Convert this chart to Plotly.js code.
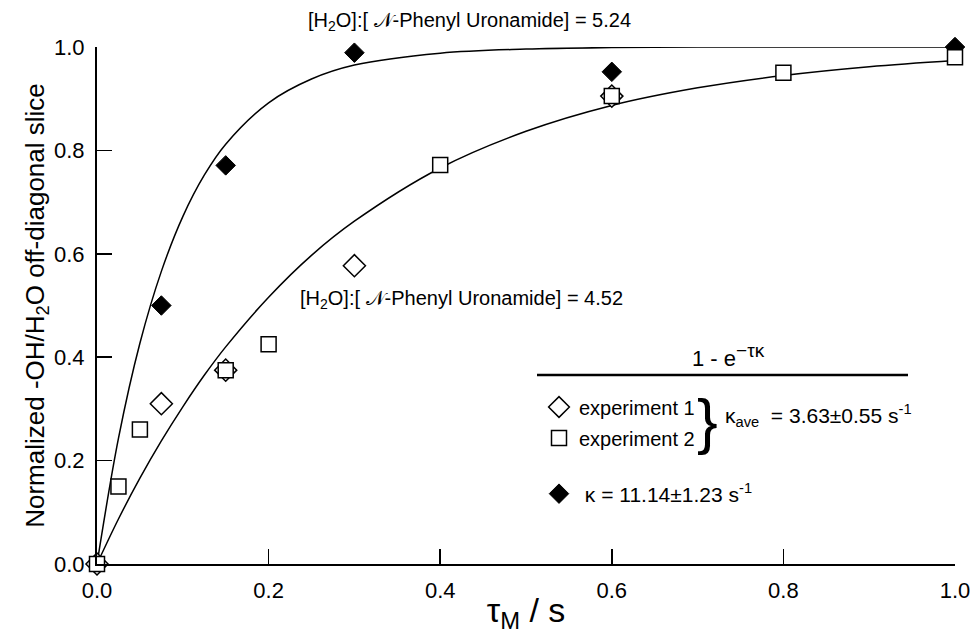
<!DOCTYPE html>
<html>
<head>
<meta charset="utf-8">
<script src="https://cdn.plot.ly/plotly-3.0.1.min.js"></script>
<style>html,body{margin:0;padding:0;background:#fff;}#chart{width:973px;height:634px;}</style>
</head>
<body>
<div id="chart"></div>
<script>
// Measured data (mixing time tau_M in s, normalized slice intensity)
const exp1X = [0, 0.075, 0.15, 0.3, 0.6];
const exp1Y = [0, 0.31, 0.375, 0.577, 0.905];
const exp2X = [0, 0.025, 0.05, 0.15, 0.2, 0.4, 0.6, 0.8, 1.0];
const exp2Y = [0, 0.15, 0.26, 0.375, 0.425, 0.772, 0.905, 0.95, 0.98];
const fastX = [0, 0.075, 0.15, 0.3, 0.6, 1.0];
const fastY = [0, 0.50, 0.771, 0.989, 0.952, 1.0];
// Fitted curves
const fitX = [0, 0.025, 0.05, 0.075, 0.1, 0.125, 0.15, 0.2, 0.25, 0.3, 0.4, 0.5, 0.6, 0.7, 0.8, 0.9, 1.0];
const fitFastY = [0, 0.243, 0.427, 0.566, 0.672, 0.752, 0.812, 0.892, 0.938, 0.965, 0.988, 0.996, 0.999, 1.0, 1.0, 1.0, 1.0];
const fitSlowY = [0, 0.087, 0.166, 0.238, 0.304, 0.365, 0.420, 0.516, 0.597, 0.663, 0.766, 0.837, 0.887, 0.921, 0.945, 0.962, 0.974];
const tickVals = [0, 0.2, 0.4, 0.6, 0.8, 1.0];
const tickText = ["0.0", "0.2", "0.4", "0.6", "0.8", "1.0"];
const labelFast = "[H<sub>2</sub>O]:[ 𝒩-Phenyl Uronamide] = 5.24";
const labelSlow = "[H<sub>2</sub>O]:[ 𝒩-Phenyl Uronamide] = 4.52";
const nameExp1 = "experiment 1";
const nameExp2 = "experiment 2";
const nameFast = " κ = 11.14±1.23 s<sup>-1</sup>";
const kaveText = "κ<sub>ave</sub>  = 3.63±0.55 s<sup>-1</sup>";
const fitText = "1 - e<sup><span style='font-size:19px'>−τκ</span></sup>";

const FONT = "Liberation Sans, Arial, Helvetica, sans-serif";

const traces = [
  {x: fitX, y: fitFastY, mode: 'lines', line: {color: 'black', width: 1.5, shape: 'spline'}, showlegend: false, hoverinfo: 'skip'},
  {x: fitX, y: fitSlowY, mode: 'lines', line: {color: 'black', width: 1.5, shape: 'spline'}, showlegend: false, hoverinfo: 'skip'},
  {x: fastX, y: fastY, mode: 'markers', name: nameFast, legend: 'legend3',
   marker: {symbol: 'diamond', size: 15, color: 'black', line: {color: 'black', width: 1}}, cliponaxis: false},
  {x: exp1X, y: exp1Y, mode: 'markers', name: nameExp1, legend: 'legend',
   marker: {symbol: 'diamond', size: 17, color: 'white', line: {color: 'black', width: 1.5}}, cliponaxis: false},
  {x: exp2X, y: exp2Y, mode: 'markers', name: nameExp2, legend: 'legend2',
   marker: {symbol: 'square', size: 15, color: 'white', line: {color: 'black', width: 1.5}}, cliponaxis: false}
];

const W = 973, H = 634, L = 97, R = 18, T = 47, B = 70;
const pw = W - L - R, ph = H - T - B;
const px = v => (v - L) / pw;
const py = v => (H - B - v) / ph;

const legendBase = {font: {family: FONT, size: 20, color: 'black'}, bgcolor: 'rgba(0,0,0,0)', borderwidth: 0, xanchor: 'left', yanchor: 'middle', itemsizing: 'trace'};

const layout = {
  width: W, height: H,
  margin: {l: L, r: R, t: T, b: B},
  paper_bgcolor: 'white', plot_bgcolor: 'white',
  font: {family: FONT, color: 'black'},
  showlegend: true,
  legend: Object.assign({}, legendBase, {x: px(539), y: py(407)}),
  legend2: Object.assign({}, legendBase, {x: px(539), y: py(438)}),
  legend3: Object.assign({}, legendBase, {x: px(539), y: py(494), font: {family: FONT, size: 21, color: 'black'}}),
  xaxis: {
    range: [0, 1], tickvals: tickVals, ticktext: tickText,
    ticks: 'inside', ticklen: 15, tickwidth: 1.5, tickcolor: 'black',
    showline: true, linewidth: 2, linecolor: 'black', showgrid: false, zeroline: false,
    tickfont: {family: FONT, size: 22, color: 'black'}, ticklabelstandoff: 6,
    title: {text: 'τ<sub>M</sub> / s', font: {family: FONT, size: 34, color: 'black'}, standoff: 0}
  },
  yaxis: {
    range: [0, 1], tickvals: tickVals, ticktext: tickText,
    ticks: 'inside', ticklen: 15, tickwidth: 1.5, tickcolor: 'black',
    showline: true, linewidth: 2, linecolor: 'black', showgrid: false, zeroline: false,
    tickfont: {family: FONT, size: 22, color: 'black'}, ticklabelstandoff: 6,
    title: {text: 'Normalized -OH/H<sub>2</sub>O off-diagonal slice', font: {family: FONT, size: 26, color: 'black'}, standoff: 2}
  },
  annotations: [
    {xref: 'paper', yref: 'paper', x: px(306), y: py(22), xanchor: 'left', yanchor: 'middle', text: labelFast, showarrow: false, font: {family: FONT, size: 20, color: 'black'}},
    {xref: 'paper', yref: 'paper', x: px(298), y: py(299), xanchor: 'left', yanchor: 'middle', text: labelSlow, showarrow: false, font: {family: FONT, size: 20, color: 'black'}},
    {xref: 'paper', yref: 'paper', x: px(728), y: py(373), xanchor: 'center', yanchor: 'bottom', text: fitText, showarrow: false, font: {family: FONT, size: 22, color: 'black'}},
    {xref: 'paper', yref: 'paper', x: px(707), y: py(420), xanchor: 'center', yanchor: 'middle', text: '}', showarrow: false, font: {family: FONT, size: 62, color: 'black'}},
    {xref: 'paper', yref: 'paper', x: px(723), y: py(415), xanchor: 'left', yanchor: 'middle', text: kaveText, showarrow: false, font: {family: FONT, size: 21, color: 'black'}}
  ],
  shapes: [
    {type: 'line', xref: 'paper', yref: 'paper', x0: px(537), x1: px(908), y0: py(375), y1: py(375), line: {color: 'black', width: 2.5}}
  ]
};

Plotly.newPlot('chart', traces, layout, {displayModeBar: false, staticPlot: true});
</script>
</body>
</html>
